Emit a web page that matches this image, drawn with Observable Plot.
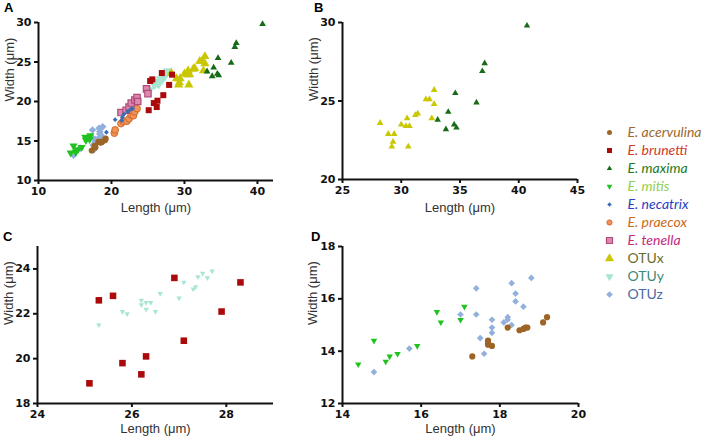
<!DOCTYPE html>
<html><head><meta charset="utf-8">
<script src="https://cdn.jsdelivr.net/npm/d3@7"></script>
<script src="https://cdn.jsdelivr.net/npm/@observablehq/plot@0.6"></script>
<style>
body{margin:0;background:#fff;}
#chart{position:relative;width:706px;height:444px;overflow:hidden;background:#fff;}
#chart svg{position:absolute;background:transparent;}
.lbl{position:absolute;font:bold 13px "Liberation Sans",Arial,sans-serif;color:#000;line-height:1;}
</style></head><body><div id="chart"></div>
<script>
// ---- data (length, width in µm) ----
const speciesNames = ["E. acervulina","E. brunetti","E. maxima","E. mitis","E. necatrix","E. praecox","E. tenella","OTUx","OTUy","OTUz"];
const acervulinaLength = [17.3,17.7,17.7,17.7,17.8,18.2,18.5,18.6,18.65,18.7,19.1,19.2];
const acervulinaWidth  = [13.8,14.4,14.3,14.25,14.2,14.9,14.8,14.85,14.9,14.9,15.1,15.3];
const brunettiLength = [25.1,25.3,25.6,25.8,26.2,26.3,26.9,27.1,27.9,28.3];
const brunettiWidth  = [18.9,22.6,22.8,19.8,19.3,20.1,23.6,20.8,22.1,23.4];
const maximaLength = [33.1,33.8,34.0,34.5,34.6,34.7,36.4,36.9,37.1,40.7];
const maximaWidth  = [23.8,23.2,24.3,23.5,25.5,23.3,24.9,26.9,27.4,29.8];
const mitisLength = [14.4,14.8,15.1,15.2,15.4,15.9,16.4,16.5,17.0,17.1];
const mitisWidth  = [13.5,14.4,13.6,13.8,13.9,14.2,15.5,15.1,15.2,15.7];
const necatrixLength = [19.3,20.5,21.4,21.5,21.7,22.2,22.6,22.9];
const necatrixWidth  = [16.1,17.7,17.6,18.0,18.4,18.7,19.0,19.1];
const praecoxLength = [20.4,20.5,21.3,21.6,22.1,22.4,22.7,23.0,23.2,23.5];
const praecoxWidth  = [16.0,16.4,17.2,17.5,17.5,17.8,18.3,18.2,18.7,19.1];
const tenellaLength = [21.3,22.0,22.4,22.7,23.2,23.5,23.6,24.8,25.0];
const tenellaWidth  = [18.6,18.9,19.3,19.8,20.2,20.5,20.0,21.6,21.0];
const otuxLength = [28.2,28.9,29.4,29.3,29.2,30.0,30.4,30.7,30.5,30.6,31.2,31.4,32.1,32.4,32.8,32.8,32.6];
const otuxWidth  = [23.6,22.9,22.9,22.4,22.1,23.5,23.4,23.4,23.9,22.1,24.1,24.2,25.1,25.1,25.7,24.8,23.9];
const otuyLength = [25.3,25.8,25.9,26.2,26.2,26.3,26.3,26.4,26.5,26.6,27.0,27.1,27.3,27.35,27.4,27.5,27.6,27.7];
const otuyWidth  = [21.5,22.1,22.0,22.6,22.4,22.2,22.5,22.5,22.1,22.9,22.7,23.4,23.1,23.2,23.65,23.8,23.6,23.9];
const otuzLength = [14.8,15.7,17.0,17.4,17.4,17.5,17.6,17.8,17.8,17.8,18.1,18.2,18.2,18.3,18.3,18.4,18.4,18.6,18.8];
const otuzWidth  = [13.2,14.1,15.4,16.4,15.4,14.5,13.9,15.2,14.9,14.7,15.1,15.2,15.3,15.0,16.6,16.2,15.9,15.7,16.8];

const rawSeries = {
  "E. acervulina": [acervulinaLength, acervulinaWidth],
  "E. brunetti": [brunettiLength, brunettiWidth],
  "E. maxima": [maximaLength, maximaWidth],
  "E. mitis": [mitisLength, mitisWidth],
  "E. necatrix": [necatrixLength, necatrixWidth],
  "E. praecox": [praecoxLength, praecoxWidth],
  "E. tenella": [tenellaLength, tenellaWidth],
  "OTUx": [otuxLength, otuxWidth],
  "OTUy": [otuyLength, otuyWidth],
  "OTUz": [otuzLength, otuzWidth]
};
const table = {};
for (const name of speciesNames) {
  const [L, W] = rawSeries[name];
  table[name] = L.map((l, i) => ({species: name, length: l, width: W[i]}));
}

// ---- styles ----
const STYLE = {
  "E. acervulina": {symbol:"circle", fill:"#9c6526", text:"#9a6a30", italic:true, legendR:2.5},
  "E. brunetti":   {symbol:"square", fill:"#aa0a0a", text:"#cf3a2a", italic:true, legendR:2.8},
  "E. maxima":     {symbol:"triangle", fill:"#176a17", text:"#237a23", italic:true, legendR:2.0},
  "E. mitis":      {symbol:"triangle", rotate:180, fill:"#1fc21f", text:"#8fcf55", italic:true, legendR:2.1},
  "E. necatrix":   {symbol:"diamond2", fill:"#3b6db5", text:"#2a3ec2", italic:true, legendR:2.0},
  "E. praecox":    {symbol:"circle", fill:"#f0935a", stroke:"#d46a2a", sw:1, text:"#cc6a22", italic:true, legendR:2.6},
  "E. tenella":    {symbol:"square", fill:"#df88ae", stroke:"#b04c7c", sw:1.2, text:"#c22a7c", italic:true, legendR:3.4},
  "OTUx":          {symbol:"triangle", fill:"#c9c700", text:"#6b6d2c", italic:false, legendR:3.4},
  "OTUy":          {symbol:"triangle", rotate:180, fill:"#a8e6d4", text:"#3e8a78", italic:false, legendR:3.0},
  "OTUz":          {symbol:"diamond2", fill:"#93b0dc", text:"#4a6aa6", italic:false, legendR:3.0}
};

const TICKFONT = "DejaVu Sans, sans-serif";
const TITLEFONT = "Liberation Sans, Arial, sans-serif";

function dots(name, r) {
  const s = STYLE[name];
  return Plot.dot(table[name], {
    x: "length", y: "width", symbol: s.symbol, r,
    fill: s.fill, stroke: s.stroke || "none", strokeWidth: s.sw || 0, rotate: s.rotate || 0
  });
}

function panel(cfg) {
  const axisOpts = {tickSize: 4, tickPadding: 3, strokeWidth: 2, fontSize: 11, fontWeight: "bold", fontFamily: TICKFONT, label: null, stroke: "#111", fill: "#111"};
  const marks = [
    Plot.ruleX([cfg.xDomain[0]], {stroke: "#111", strokeWidth: 2}),
    Plot.ruleY([cfg.yDomain[0]], {stroke: "#111", strokeWidth: 2}),
    Plot.axisX(cfg.xTicks, {...axisOpts}),
    Plot.axisY(cfg.yTicks, {...axisOpts}),
    Plot.text(["Length (μm)"], {frameAnchor: "bottom", dy: cfg.xTitleDy, fontSize: 13, fontFamily: TITLEFONT, fill: "#333", fontWeight: "normal"}),
    Plot.text(["Width (μm)"], {frameAnchor: "left", dx: cfg.yTitleDx, rotate: -90, fontSize: 13, fontFamily: TITLEFONT, fill: "#333", fontWeight: "normal"})
  ];
  for (const [name, r] of cfg.groups) marks.push(dots(name, r));
  const svg = Plot.plot({
    width: cfg.width, height: cfg.height,
    marginLeft: cfg.ml, marginRight: cfg.mr, marginTop: cfg.mt, marginBottom: cfg.mb,
    x: {domain: cfg.xDomain},
    y: {domain: cfg.yDomain},
    style: {background: "transparent", overflow: "visible", fontWeight: "bold", fontFamily: TICKFONT, fontSize: "11px"},
    marks
  });
  svg.style.left = cfg.left + "px";
  svg.style.top = cfg.top + "px";
  return svg;
}

const chart = document.getElementById("chart");

chart.appendChild(panel({
  left: 0, top: 0, width: 300, height: 220, ml: 38, mr: 27, mt: 22, mb: 40,
  xDomain: [10, 42.2], yDomain: [10, 30], xTicks: [10, 20, 30, 40], yTicks: [10, 15, 20, 25, 30],
  xTitleDy: 31, yTitleDx: -29,
  groups: [["OTUz", 3.4], ["OTUy", 3.0], ["OTUx", 3.4], ["E. acervulina", 3.1], ["E. praecox", 3.4],
           ["E. tenella", 3.6], ["E. necatrix", 2.2], ["E. brunetti", 3.4], ["E. maxima", 2.5], ["E. mitis", 3.0]]
}));

chart.appendChild(panel({
  left: 300, top: 0, width: 290, height: 220, ml: 42, mr: 13, mt: 22, mb: 41,
  xDomain: [25, 45], yDomain: [20, 30], xTicks: [25, 30, 35, 40, 45], yTicks: [20, 25, 30],
  xTitleDy: 32, yTitleDx: -29,
  groups: [["OTUx", 2.5], ["E. maxima", 2.4]]
}));

chart.appendChild(panel({
  left: 0, top: 220, width: 300, height: 224, ml: 37, mr: 27, mt: 26, mb: 41,
  xDomain: [24, 29], yDomain: [18, 25], xTicks: [24, 26, 28], yTicks: [18, 20, 22, 24],
  xTitleDy: 29.5, yTitleDx: -29,
  groups: [["OTUy", 2.0], ["E. brunetti", 3.7]]
}));

chart.appendChild(panel({
  left: 300, top: 220, width: 290, height: 224, ml: 42, mr: 12, mt: 26, mb: 41,
  xDomain: [14, 20], yDomain: [12, 18], xTicks: [14, 16, 18, 20], yTicks: [12, 14, 16, 18],
  xTitleDy: 29.5, yTitleDx: -29.5,
  groups: [["OTUz", 3.0], ["E. mitis", 2.4], ["E. acervulina", 3.1]]
}));

// legend
const legendMarks = [];
for (const name of speciesNames) {
  const s = STYLE[name];
  legendMarks.push(Plot.dot([name], {
    x: () => 0, y: d => d, symbol: s.symbol, r: s.legendR,
    fill: s.fill, stroke: s.stroke || "none", strokeWidth: s.sw || 0, rotate: s.rotate || 0
  }));
  legendMarks.push(Plot.text([name], {
    x: () => 0, y: d => d, dx: 18, text: d => d, textAnchor: "start",
    fill: s.text, fontStyle: s.italic ? "italic" : "normal", fontSize: 14, fontFamily: "Lato, Open Sans, sans-serif"
  }));
}
const legend = Plot.plot({
  width: 110, height: 210, margin: 0,
  x: {domain: [0, 1], range: [13, 110], axis: null},
  y: {type: "point", domain: speciesNames, range: [10, 199], axis: null},
  style: {background: "transparent", overflow: "visible"},
  marks: legendMarks
});
legend.style.left = "596px";
legend.style.top = "108px";
chart.appendChild(legend);

// panel letters
for (const [t, l, tp] of [["A", 4, 1], ["B", 314, 1], ["C", 3, 230], ["D", 311, 230]]) {
  const d = document.createElement("div");
  d.className = "lbl"; d.textContent = t;
  d.style.left = l + "px"; d.style.top = tp + "px";
  chart.appendChild(d);
}
</script>
</body></html>
